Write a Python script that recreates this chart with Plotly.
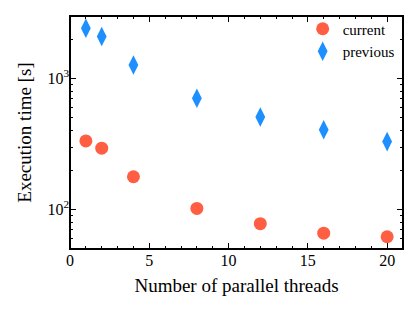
import plotly.graph_objects as go
import numpy as np

threads = [1, 2, 4, 8, 12, 16, 20]
current = [334, 294, 178, 102, 78, 66, 62]
previous = [2416, 2095, 1267, 707, 509, 406, 330]

font_family = "Liberation Serif, DejaVu Serif, serif"

fig = go.Figure()
fig.add_trace(go.Scatter(x=threads, y=current, mode="markers", name="current",
                         marker=dict(symbol="circle", size=13, color="#FF5E42")))
fig.add_trace(go.Scatter(x=threads, y=previous, mode="markers", name="previous",
                         marker=dict(symbol="diamond-tall", size=14, color="#1E8FFF")))

minor_y = [m * 10 ** e for e in range(1, 4) for m in range(2, 10)]

fig.update_layout(
    width=408, height=301,
    margin=dict(l=62, r=13, t=4, b=60),
    paper_bgcolor="white", plot_bgcolor="white",
    font=dict(family=font_family, size=16, color="black"),
    legend=dict(x=0.99, y=1.015, xanchor="right", yanchor="top",
                bgcolor="rgba(0,0,0,0)", font=dict(size=15), itemsizing="trace",
                tracegroupgap=0),
    showlegend=True,
    shapes=[dict(type="rect", xref="paper", yref="paper", x0=0, x1=1, y0=0, y1=1,
                 line=dict(color="black", width=2), layer="above")],
)
fig.update_xaxes(
    range=[0, 21], showgrid=False, zeroline=False, automargin=False,
    showline=False, mirror="ticks",
    ticks="inside", ticklen=6, tickwidth=1, tickcolor="black",
    tickvals=[0, 5, 10, 15, 20],
    minor=dict(ticks="inside", ticklen=3, tickcolor="black", dtick=1, showgrid=False),
    title=dict(text="Number of parallel threads", standoff=10),
)
fig.update_yaxes(
    type="log", range=[np.log10(50), np.log10(3000)], showgrid=False, zeroline=False,
    automargin=False,
    showline=False, mirror="ticks",
    ticks="inside", ticklen=6, tickwidth=1, tickcolor="black",
    tickvals=[100, 1000], ticktext=["10<sup>2</sup>", "10<sup>3</sup>"],
    minor=dict(ticks="inside", ticklen=3, tickcolor="black", tickvals=minor_y, showgrid=False),
    title=dict(text="Execution time [s]", standoff=10),
)
fig.write_html("out.html")
